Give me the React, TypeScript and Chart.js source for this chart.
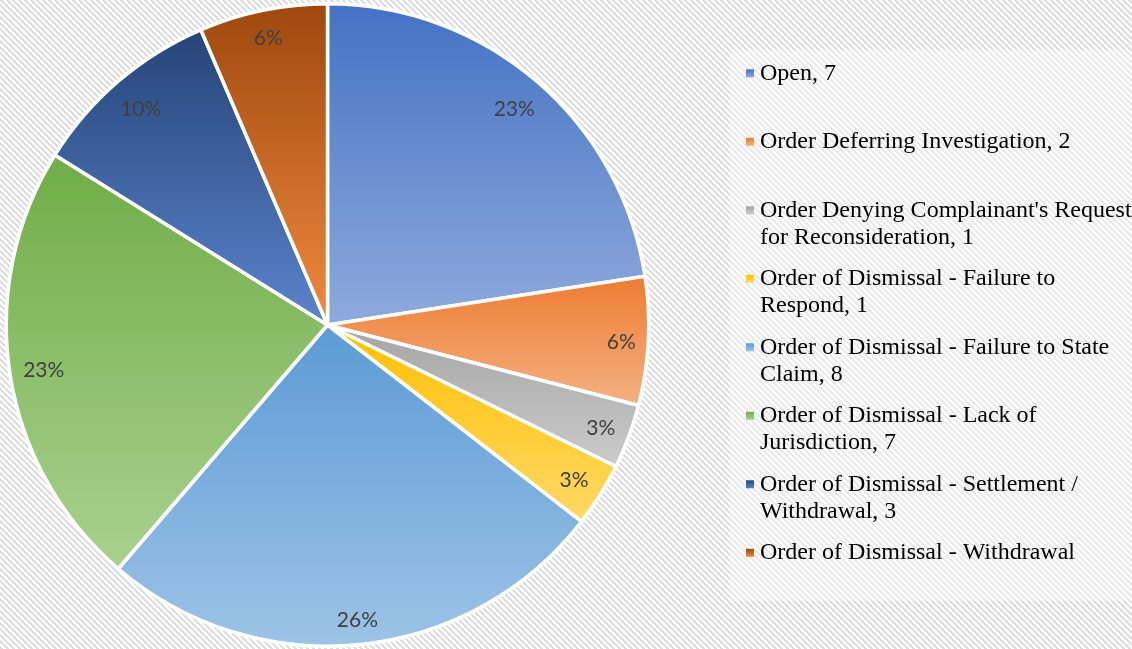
import React, { useEffect, useRef } from "react";
import { Chart, registerables } from "chart.js";

Chart.register(...registerables);

const categories = [
  "Open",
  "Order Deferring Investigation",
  "Order Denying Complainant's Request for Reconsideration",
  "Order of Dismissal - Failure to Respond",
  "Order of Dismissal - Failure to State Claim",
  "Order of Dismissal - Lack of Jurisdiction",
  "Order of Dismissal - Settlement / Withdrawal",
  "Order of Dismissal - Withdrawal",
];

const values = [7, 2, 1, 1, 8, 7, 3, 2];

const legendLabels = [
  "Open, 7",
  "Order Deferring Investigation, 2",
  "Order Denying Complainant's Request for Reconsideration, 1",
  "Order of Dismissal - Failure to Respond, 1",
  "Order of Dismissal - Failure to State Claim, 8",
  "Order of Dismissal - Lack of Jurisdiction, 7",
  "Order of Dismissal - Settlement / Withdrawal, 3",
  "Order of Dismissal - Withdrawal",
];

const topColors = ["#4472C4", "#ED7D31", "#A5A5A5", "#FFC000", "#5B9BD5", "#70AD47", "#264478", "#9E480E"];
const bottomColors = ["#8FAADC", "#F4B183", "#CBCBCB", "#FFD966", "#9DC3E6", "#A9D18E", "#5B84CC", "#F08A3E"];

const W = 1132;
const H = 649;

function makeHatch(ctx: CanvasRenderingContext2D) {
  const P = 6;
  const c = document.createElement("canvas");
  c.width = P;
  c.height = P;
  const g = c.getContext("2d")!;
  const img = g.createImageData(P, P);
  for (let y = 0; y < P; y++) {
    for (let x = 0; x < P; x++) {
      const k = (((x - y) % P) + P) % P;
      const v = k < 3 ? 222 : 255;
      const i = (y * P + x) * 4;
      img.data[i] = v;
      img.data[i + 1] = v;
      img.data[i + 2] = v;
      img.data[i + 3] = 255;
    }
  }
  g.putImageData(img, 0, 0);
  return ctx.createPattern(c, "repeat");
}

function arcYRange(el: any) {
  const { x, y, startAngle, endAngle, outerRadius } = el;
  const ys = [y, y + Math.sin(startAngle) * outerRadius, y + Math.sin(endAngle) * outerRadius];
  for (let a = -Math.PI * 2.5; a <= Math.PI * 4; a += Math.PI / 2) {
    if (a > startAngle && a < endAngle) ys.push(y + Math.sin(a) * outerRadius);
  }
  return [Math.min(...ys), Math.max(...ys)];
}

const bgPlugin = {
  id: "hatchBg",
  beforeDraw(chart: any) {
    const ctx = chart.ctx;
    ctx.save();
    ctx.fillStyle = makeHatch(ctx) || "#fff";
    ctx.fillRect(0, 0, chart.width, chart.height);
    ctx.restore();
  },
};

const gradientPlugin = {
  id: "sliceGradients",
  beforeDatasetsDraw(chart: any) {
    const ctx = chart.ctx;
    const meta = chart.getDatasetMeta(0);
    meta.data.forEach((el: any, i: number) => {
      const [y0, y1] = arcYRange(el);
      const g = ctx.createLinearGradient(0, y0, 0, y1);
      g.addColorStop(0, topColors[i]);
      g.addColorStop(1, bottomColors[i]);
      el.options.backgroundColor = g;
    });
  },
};

const labelPlugin = {
  id: "pctLabels",
  afterDatasetsDraw(chart: any) {
    const ctx = chart.ctx;
    const meta = chart.getDatasetMeta(0);
    const total = values.reduce((a, b) => a + b, 0);
    ctx.save();
    ctx.font = "21px Lato";
    ctx.fillStyle = "#404040";
    ctx.textAlign = "center";
    ctx.textBaseline = "middle";
    meta.data.forEach((el: any, i: number) => {
      const text = Math.round((values[i] / total) * 100) + "%";
      const w = ctx.measureText(text).width;
      const h = 24;
      const mid = (el.startAngle + el.endAngle) / 2;
      const cx = Math.cos(mid);
      const sy = Math.sin(mid);
      const ext = Math.abs((w / 2) * cx) + Math.abs((h / 2) * sy);
      const d = el.outerRadius - 12 - ext;
      ctx.fillText(text, el.x + cx * d, el.y + sy * d + 2);
    });
    ctx.restore();
  },
};

function wrap(ctx: CanvasRenderingContext2D, text: string, maxW: number) {
  const words = text.split(" ");
  const lines: string[] = [];
  let cur = "";
  for (const w of words) {
    const t = cur ? cur + " " + w : w;
    if (ctx.measureText(t).width > maxW && cur) {
      lines.push(cur);
      cur = w;
    } else cur = t;
  }
  if (cur) lines.push(cur);
  return lines;
}

const legendPlugin = {
  id: "customLegend",
  afterDraw(chart: any) {
    const ctx = chart.ctx;
    ctx.save();
    ctx.fillStyle = "rgba(255,255,255,0.38)";
    ctx.fillRect(730, 50, W - 730, 551);
    ctx.font = "24px 'Liberation Serif'";
    ctx.textBaseline = "middle";
    ctx.textAlign = "left";
    legendLabels.forEach((lab, i) => {
      const y = 73.3 + i * 68.5;
      const g = ctx.createLinearGradient(0, y - 4, 0, y + 4);
      g.addColorStop(0, topColors[i]);
      g.addColorStop(1, bottomColors[i]);
      ctx.fillStyle = g;
      ctx.fillRect(746, y - 4, 8, 8);
      ctx.fillStyle = "#000";
      const lines = wrap(ctx, lab, 380);
      lines.forEach((ln, k) => ctx.fillText(ln, 760, y + k * 27));
    });
    ctx.restore();
  },
};

export default function App() {
  const ref = useRef<HTMLCanvasElement>(null);
  useEffect(() => {
    document.body.style.margin = "0";
    const canvas = ref.current!;
    const chart = new Chart(canvas, {
      type: "pie",
      data: {
        labels: categories,
        datasets: [
          {
            data: values,
            backgroundColor: topColors,
            borderColor: "#ffffff",
            borderWidth: 3.5,
          },
        ],
      },
      options: {
        responsive: false,
        animation: false,
        devicePixelRatio: 1,
        layout: { padding: { left: 4, top: 2, right: 481, bottom: 1 } },
        plugins: {
          legend: { display: false },
          tooltip: { enabled: false },
        },
      },
      plugins: [bgPlugin, gradientPlugin, labelPlugin, legendPlugin],
    });
    return () => chart.destroy();
  }, []);
  return <canvas ref={ref} width={W} height={H} style={{ display: "block" }} />;
}
